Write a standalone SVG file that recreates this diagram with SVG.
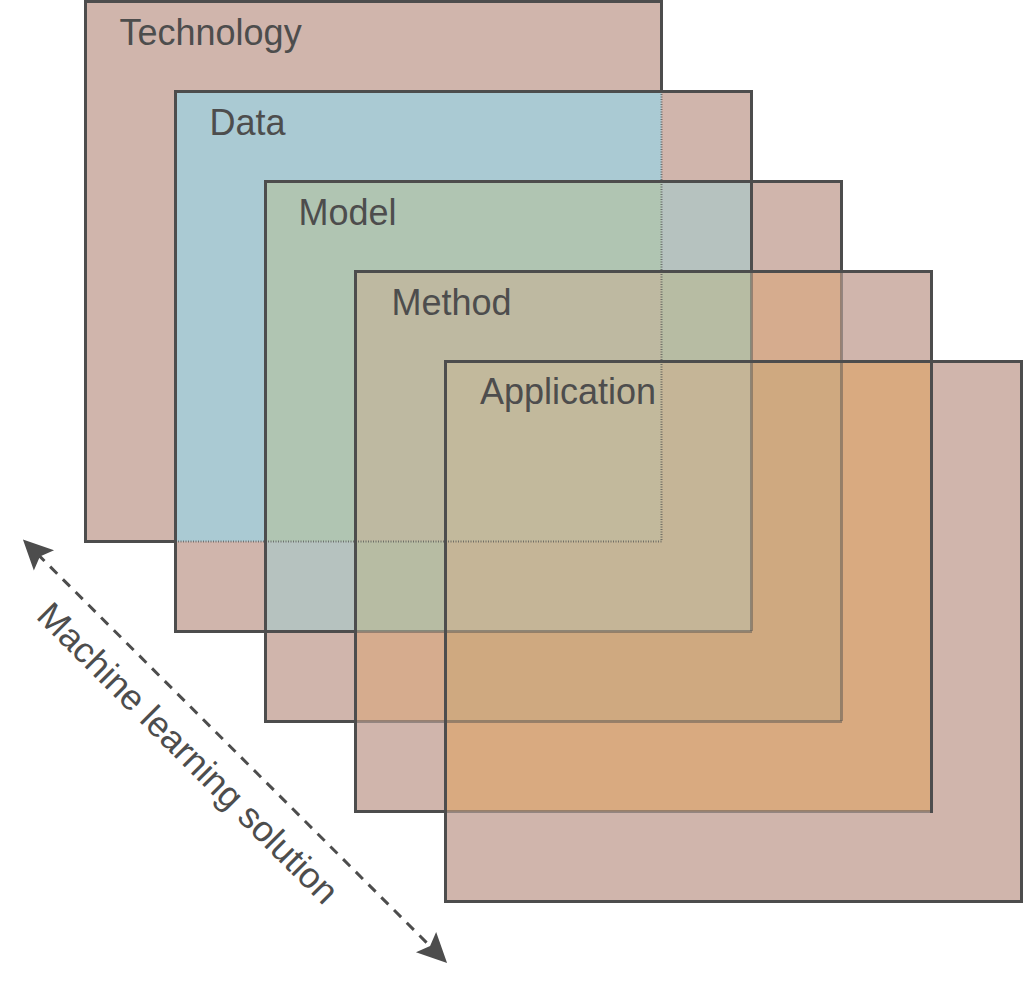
<svg xmlns="http://www.w3.org/2000/svg" width="1023" height="990" viewBox="0 0 1023 990">
<style>
.base{fill:#D0B5AC}
.lbl{font-family:"Liberation Sans",Arial,Helvetica,sans-serif;font-size:36px;fill:#4D4D4D}
.solid{fill:none;stroke:#4D4D4D;stroke-width:3;stroke-linejoin:miter;stroke-linecap:square}
.dot{fill:none;stroke:#4D4D4D;stroke-width:3;stroke-dasharray:1 1;opacity:0.9}
.dotlight{fill:none;stroke:#4D4D4D;stroke-width:2;stroke-dasharray:1 1.5;opacity:0.7}
.conn{fill:none;stroke:#4D4D4D;stroke-width:3;stroke-dasharray:10 8}
</style>
<defs>
<marker id="ah" markerUnits="userSpaceOnUse" markerWidth="40" markerHeight="40" viewBox="-10 -15 35 30" refX="0" refY="0" orient="auto-start-reverse">
<path d="M20,0 L-6,-12.5 L-1,0 L-6,12.5 Z" fill="#4D4D4D"/>
</marker>
</defs>
<rect width="1023" height="990" fill="#FFFFFF"/>
<g id="fills">
<rect class="base" x="85.5" y="1.5" width="576" height="540"/>
<rect class="base" x="175.5" y="91.5" width="576" height="540"/>
<rect class="base" x="265.5" y="181.5" width="576" height="540"/>
<rect class="base" x="355.5" y="271.5" width="576" height="540"/>
<rect class="base" x="445.5" y="361.5" width="576" height="540"/>
<rect x="175.5" y="91.5" width="486" height="450" fill="#AACAD3"/>
<rect x="265.5" y="181.5" width="486" height="450" fill="#B6C2BF"/>
<rect x="355.5" y="271.5" width="486" height="450" fill="#D6AC8E"/>
<rect x="445.5" y="361.5" width="486" height="450" fill="#D9AA80"/>
<rect x="265.5" y="181.5" width="396" height="360" fill="#B0C5B2"/>
<rect x="355.5" y="271.5" width="396" height="360" fill="#B7BCA3"/>
<rect x="445.5" y="361.5" width="396" height="360" fill="#CFA980"/>
<rect x="355.5" y="271.5" width="306" height="270" fill="#BEB9A1"/>
<rect x="445.5" y="361.5" width="306" height="270" fill="#C5B597"/>
<rect x="445.5" y="361.5" width="216" height="180" fill="#C2B99C"/>
</g>
<g id="technology">
<path class="solid" d="M85.5,541.5 V1.5 H661.5 V91.5 M85.5,541.5 H175.5"/>
<path class="dotlight" d="M661.5,91.5 V541.5 H175.5"/>
<text class="lbl" x="119.5" y="45">Technology</text>
</g>
<g id="data">
<path class="solid" d="M175.5,631.5 V91.5 H751.5 V271.5 M175.5,631.5 H355.5"/>
<path class="dot" d="M751.5,271.5 V631.5 H355.5"/>
<text class="lbl" x="209.5" y="135">Data</text>
</g>
<g id="model">
<path class="solid" d="M265.5,721.5 V181.5 H841.5 V271.5 M265.5,721.5 H355.5"/>
<path class="dot" d="M841.5,271.5 V721.5 H355.5"/>
<text class="lbl" x="298.5" y="225">Model</text>
</g>
<g id="method">
<path class="solid" d="M355.5,811.5 V271.5 H931.5 V811.5 M355.5,811.5 H445.5"/>
<path class="dot" d="M931.5,811.5 H445.5"/>
<text class="lbl" x="391.5" y="314.5">Method</text>
</g>
<g id="application">
<rect class="solid" x="445.5" y="361.5" width="576" height="540"/>
<text class="lbl" x="480" y="404">Application</text>
</g>
<g id="connectors">
<line class="conn" x1="39.1" y1="555.6" x2="430.9" y2="946.9" stroke-dashoffset="2.4" marker-start="url(#ah)" marker-end="url(#ah)"/>
<text class="lbl" transform="translate(35,617.5) rotate(45)">Machine learning solution</text>
</g>
</svg>
